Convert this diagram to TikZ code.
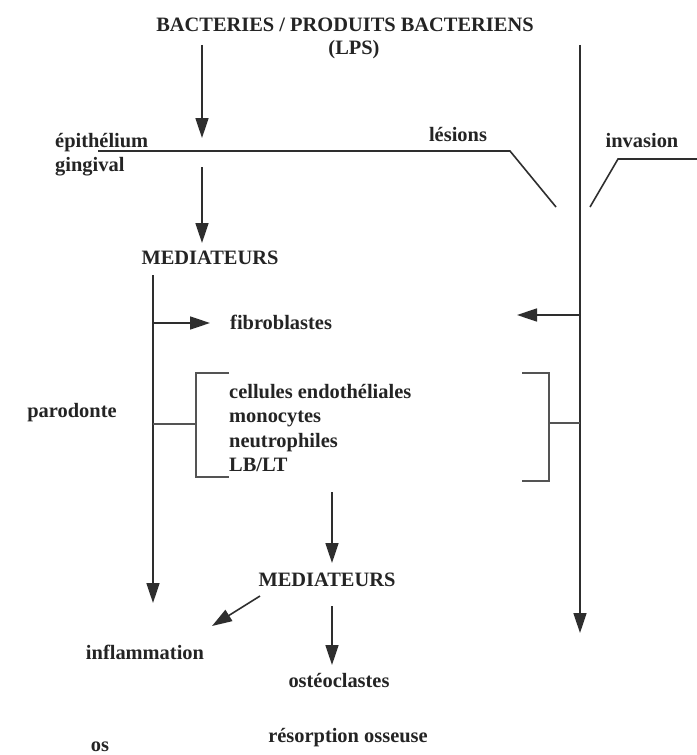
\documentclass[tikz,border=0pt]{standalone}
\usepackage{fontspec}
\setmainfont{Liberation Serif}
\usetikzlibrary{arrows.meta}
\definecolor{strich}{rgb}{0.18,0.18,0.18}
\definecolor{klammer}{rgb}{0.33,0.33,0.33}
\definecolor{schrift}{rgb}{0.14,0.14,0.14}

\tikzset{
  txt/.style={font=\bfseries\fontsize{20.5}{24.5}\selectfont,text=schrift,inner sep=0pt},
  linie/.style={line width=1.6bp,strich},
  pfeil/.style={line width=1.6bp,strich,-{Triangle[length=20bp,width=13bp]}},
  klam/.style={line width=2bp,klammer}
}

\begin{document}
\begin{tikzpicture}[yscale=-1,x=1bp,y=1bp]

  \useasboundingbox (0,0) rectangle (697,755);
  \fill[white] (0,0) rectangle (697,755);

  % --- Textknoten ---
  \node[txt] (bakt) at (345,25) {BACTERIES / PRODUITS BACTERIENS};
  \node[txt] (lps) at (354,50) {(LPS)};
  \node[txt,anchor=west] (epi) at (55,143) {épithélium};
  \node[txt,anchor=west] (ging) at (55,167) {gingival};
  \node[txt] (les) at (458,135) {lésions};
  \node[txt] (inv) at (642,141) {invasion};
  \node[txt] (med1) at (210,258) {MEDIATEURS};
  \node[txt,anchor=west] (fibro) at (230,322) {fibroblastes};
  \node[txt] (paro) at (72,413) {parodonte};
  \node[txt,anchor=north west,align=left] (zellen) at (229,384)
    {cellules endothéliales\\monocytes\\neutrophiles\\LB/LT};
  \node[txt] (med2) at (327,580) {MEDIATEURS};
  \node[txt] (infl) at (145,652) {inflammation};
  \node[txt] (osteo) at (339,680) {ostéoclastes};
  \node[txt] (resorp) at (348,738) {résorption osseuse};
  \node[txt] (os) at (100,747) {os};

  % --- Hilfspunkte fuer die Pfeile ---
  \coordinate (a1s) at (202,45);   \coordinate (a1e) at (202,138);
  \coordinate (a2s) at (202,167);  \coordinate (a2e) at (202,243);
  \coordinate (lvs) at (153,275);  \coordinate (lve) at (153,603);
  \coordinate (fbs) at (153,323);  \coordinate (fbe) at (210,323);
  \coordinate (rvs) at (580,45);   \coordinate (rve) at (580,633);
  \coordinate (rfs) at (580,315);  \coordinate (rfe) at (517,315);
  \coordinate (mas) at (332,492);  \coordinate (mae) at (332,563);
  \coordinate (dgs) at (260,596);  \coordinate (dge) at (212,626);
  \coordinate (oss) at (332,606);  \coordinate (ose) at (332,665);

  % ======================================================================
  % Epithel-Linie mit Laesion und Invasion
  % ======================================================================
  \draw[linie] (98,151) -- (510,151) -- (556,207);
  \draw[linie] (590,207) -- (618,159) -- (697,159);

  % --- senkrechte Pfeile links ---
  \draw[pfeil] (a1s) -- (a1e);
  \draw[pfeil] (a2s) -- (a2e);
  \draw[pfeil] (lvs) -- (lve);
  \draw[pfeil] (fbs) -- (fbe);

  % --- Invasionsweg rechts ---
  \draw[pfeil] (rvs) -- (rve);
  \draw[pfeil] (rfs) -- (rfe);

  % ======================================================================
  % Klammern um die Zellen
  % ======================================================================
  \draw[klam] (229,373) -- (196,373) -- (196,477) -- (229,477);
  \draw[klam] (153,424) -- (196,424);
  \draw[klam] (522,373) -- (549,373) -- (549,481) -- (522,481);
  \draw[klam] (549,423) -- (580,423);

  % --- Mediatoren unten ---
  \draw[pfeil] (mas) -- (mae);
  \draw[pfeil] (dgs) -- (dge);
  \draw[pfeil] (oss) -- (ose);

\end{tikzpicture}
\end{document}
